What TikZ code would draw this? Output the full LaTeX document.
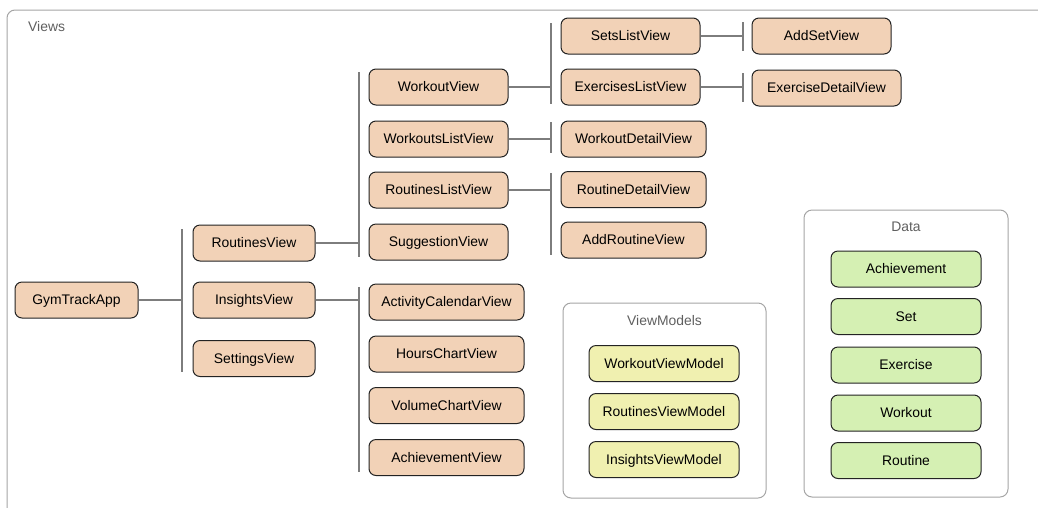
\documentclass[tikz,border=0pt]{standalone}
\usepackage{fontspec}
\setmainfont{Liberation Sans}
\definecolor{viewfill}{RGB}{242,210,183}
\definecolor{vmfill}{RGB}{240,240,176}
\definecolor{datafill}{RGB}{213,240,179}
\definecolor{nodeline}{RGB}{35,35,35}
\definecolor{groupline}{RGB}{165,165,165}
\definecolor{linkline}{RGB}{125,125,125}
\definecolor{labelgray}{RGB}{95,95,95}
\tikzset{
  base/.style={draw=nodeline, line width=1pt, rounded corners=7pt,
    minimum height=36pt, inner sep=0pt, text height=9.9pt, text depth=0pt,
    font=\fontsize{13.9}{15}\selectfont, text=black},
  view/.style={base, fill=viewfill, minimum width=#1},
  vm/.style={base, fill=vmfill, minimum width=150pt},
  entity/.style={base, fill=datafill, minimum width=150pt},
  group/.style={draw=groupline, line width=1pt, rounded corners=8pt, inner sep=0pt},
  grouplabel/.style={font=\fontsize{13.9}{15}\selectfont, text=labelgray, inner sep=0pt,
    text height=9.9pt, text depth=0pt},
  link/.style={draw=linkline, line width=1.1pt},
}
\begin{document}
\begin{tikzpicture}[x=1pt, y=-1pt]
\useasboundingbox (0,0) rectangle (1038,507);

% outer frame of the views area, running off the page to the right and bottom
\begin{scope}
  \clip (0,0) rectangle (1038,507);
  \draw[group] (7,530) -- (7,10) -- (1060,10);
\end{scope}
\node[grouplabel, anchor=west] (viewsLabel) at (28,27) {Views};

% app and first level
\node[view=123pt] (app) at (76.5,300) {GymTrackApp};
\node[view=122pt] (routines) at (254,243) {RoutinesView};
\node[view=122pt] (insights) at (254,300) {InsightsView};
\node[view=122pt] (settings) at (254,358.5) {SettingsView};

% children of RoutinesView
\node[view=139pt] (workout) at (438.5,87) {WorkoutView};
\node[view=139pt] (workoutsList) at (438.5,139) {WorkoutsListView};
\node[view=139pt] (routinesList) at (438.5,190) {RoutinesListView};
\node[view=139pt] (suggestion) at (438.5,242) {SuggestionView};

% children of InsightsView
\node[view=155pt] (calendar) at (446.5,302) {ActivityCalendarView};
\node[view=155pt] (hours) at (446.5,354) {HoursChartView};
\node[view=155pt] (volume) at (446.5,405.5) {VolumeChartView};
\node[view=155pt] (achView) at (446.5,457.5) {AchievementView};

% third level
\node[view=139pt] (setsList) at (630.5,36) {SetsListView};
\node[view=139pt] (exList) at (630.5,87) {ExercisesListView};
\node[view=145pt] (workoutDetail) at (633.5,139) {WorkoutDetailView};
\node[view=145pt] (routineDetail) at (633.5,189.5) {RoutineDetailView};
\node[view=145pt] (addRoutine) at (633.5,240) {AddRoutineView};

% fourth level
\node[view=139pt] (addSet) at (821.5,36) {AddSetView};
\node[view=149pt] (exDetail) at (826.5,88) {ExerciseDetailView};

% view models group
\node[group, minimum width=203pt, minimum height=195pt] (vmGroup) at (664.5,400.5) {};
\node[grouplabel] (vmLabel) at (664.5,321) {ViewModels};
\node[vm] (workoutVM) at (664,363.5) {WorkoutViewModel};
\node[vm] (routinesVM) at (664,411.5) {RoutinesViewModel};
\node[vm] (insightsVM) at (664,459.5) {InsightsViewModel};

% data group
\node[group, minimum width=204pt, minimum height=287pt] (dataGroup) at (906,353.5) {};
\node[grouplabel] (dataLabel) at (906,227) {Data};
\node[entity] (achievement) at (906,269) {Achievement};
\node[entity] (set) at (906,316.5) {Set};
\node[entity] (exercise) at (906,365) {Exercise};
\node[entity] (workoutE) at (906,413) {Workout};
\node[entity] (routine) at (906,460.5) {Routine};

% bus lines
\coordinate (b1t) at (182,229);  \coordinate (b1b) at (182,372);
\coordinate (b2t) at (359,72);   \coordinate (b2b) at (359,257);
\coordinate (b3t) at (359,287);  \coordinate (b3b) at (359,472);
\coordinate (b4t) at (551,23);   \coordinate (b4b) at (551,104);
\coordinate (b5t) at (551,122);  \coordinate (b5b) at (551,153);
\coordinate (b6t) at (551,173);  \coordinate (b6b) at (551,255);
\coordinate (b7t) at (743,22);   \coordinate (b7b) at (743,51);
\coordinate (b8t) at (743,73);   \coordinate (b8b) at (743,102);

\foreach \t/\b in {b1t/b1b, b2t/b2b, b3t/b3b, b4t/b4b, b5t/b5b, b6t/b6b, b7t/b7b, b8t/b8b}
  \draw[link] (\t) -- (\b);

% stubs from each parent to its bus
\draw[link] (app.east) -- (app.east -| b1t);
\draw[link] (routines.east) -- (routines.east -| b2t);
\draw[link] (insights.east) -- (insights.east -| b3t);
\draw[link] (workout.east) -- (workout.east -| b4t);
\draw[link] (workoutsList.east) -- (workoutsList.east -| b5t);
\draw[link] (routinesList.east) -- (routinesList.east -| b6t);
\draw[link] (setsList.east) -- (setsList.east -| b7t);
\draw[link] (exList.east) -- (exList.east -| b8t);
\end{tikzpicture}
\end{document}
